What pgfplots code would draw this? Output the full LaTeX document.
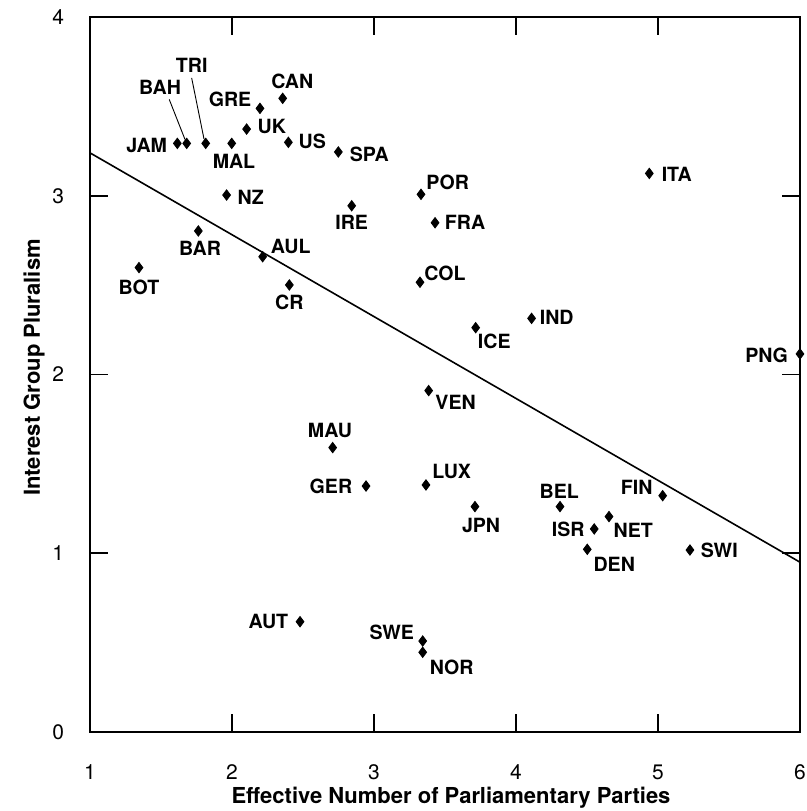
\documentclass[border=0pt]{standalone}
\usepackage{fontspec}
\setmainfont{TeX Gyre Heros}
\usepackage{pgfplots}
\usepackage{pgfplotstable}
\pgfplotsset{compat=1.18}

% data points (effective number of parties, interest group pluralism)
\pgfplotstableread{
x y name
2.357 3.545 CAN
2.197 3.489 GRE
2.103 3.373 UK
2.397 3.299 US
1.615 3.293 JAM
1.681 3.293 BAH
1.815 3.293 TRI
1.998 3.293 MAL
2.749 3.245 SPA
1.962 3.004 NZ
2.843 2.944 IRE
1.763 2.803 BAR
2.216 2.659 AUL
1.345 2.598 BOT
2.404 2.501 CR
3.331 3.008 POR
3.430 2.849 FRA
3.324 2.516 COL
3.716 2.262 ICE
4.110 2.314 IND
3.385 1.910 VEN
2.709 1.591 MAU
4.939 3.125 ITA
6.000 2.115 PNG
4.310 1.261 BEL
5.033 1.322 FIN
4.655 1.205 NET
4.551 1.136 ISR
4.502 1.022 DEN
5.225 1.018 SWI
2.944 1.376 GER
3.366 1.382 LUX
3.711 1.261 JPN
2.479 0.617 AUT
3.343 0.509 SWE
3.343 0.446 NOR
}\points

% label positions (text centres)
\pgfplotstableread{
x y name
1.716 3.731 TRI
1.493 3.607 BAH
2.425 3.642 CAN
1.986 3.540 GRE
2.280 3.390 UK
2.565 3.302 US
1.399 3.284 JAM
2.014 3.191 MAL
2.967 3.234 SPA
2.132 2.991 NZ
2.843 2.849 IRE
1.775 2.706 BAR
2.413 2.715 AUL
1.345 2.488 BOT
2.404 2.402 CR
3.519 3.073 POR
3.641 2.849 FRA
3.500 2.566 COL
3.847 2.184 ICE
4.287 2.320 IND
3.575 1.842 VEN
2.690 1.686 MAU
5.132 3.120 ITA
5.765 2.105 PNG
4.305 1.344 BEL
4.850 1.369 FIN
4.826 1.130 NET
4.368 1.136 ISR
4.692 0.940 DEN
5.432 1.014 SWI
2.697 1.372 GER
3.547 1.456 LUX
3.754 1.158 JPN
2.256 0.617 AUT
3.125 0.558 SWE
3.547 0.362 NOR
}\labels

\begin{document}
\begin{tikzpicture}
\begin{axis}[
  scale only axis,
  width=355pt, height=357.5pt,
  xmin=1, xmax=6, ymin=0, ymax=4,
  xtick={1,2,3,4,5,6}, ytick={0,1,2,3,4},
  tick pos=both, xticklabel pos=lower, yticklabel pos=left,
  tick align=inside, major tick length=9pt,
  axis line style={line width=1pt},
  every tick/.style={black, line width=0.9pt},
  /pgf/number format/assume math mode=true,
  tick label style={font=\fontsize{10.5}{10.5}\selectfont},
  xticklabel style={yshift=-13pt},
  yticklabel style={xshift=-9.5pt},
  xlabel={Effective Number of Parliamentary Parties},
  ylabel={Interest Group Pluralism},
  label style={font=\bfseries\fontsize{11}{11}\selectfont},
  xlabel style={at={(axis description cs:0.5085,-0.0923)}, anchor=center},
  ylabel style={at={(axis description cs:-0.0789,0.5098)}, anchor=center},
  clip=false,
]
\addplot[no marks, black, line width=0.8pt] coordinates {(1,3.24) (6,0.95)};
\addplot[no marks, black, line width=0.45pt] coordinates {(1.558,3.539) (1.669,3.315)};
\addplot[no marks, black, line width=0.45pt] coordinates {(1.716,3.659) (1.803,3.317)};
\addplot[only marks, mark=diamond*, mark size=2.6pt, black] table[x=x,y=y] {\points};
\addplot[only marks, mark=none, nodes near coords, point meta=explicit symbolic,
  nodes near coords style={anchor=center, inner sep=0pt, font=\bfseries\fontsize{9.8}{9.8}\selectfont}]
  table[x=x,y=y,meta=name] {\labels};
\end{axis}
\pgfresetboundingbox
\path[use as bounding box] (-45pt,-39.5pt) rectangle (358.5pt,366pt);
\end{tikzpicture}
\end{document}
